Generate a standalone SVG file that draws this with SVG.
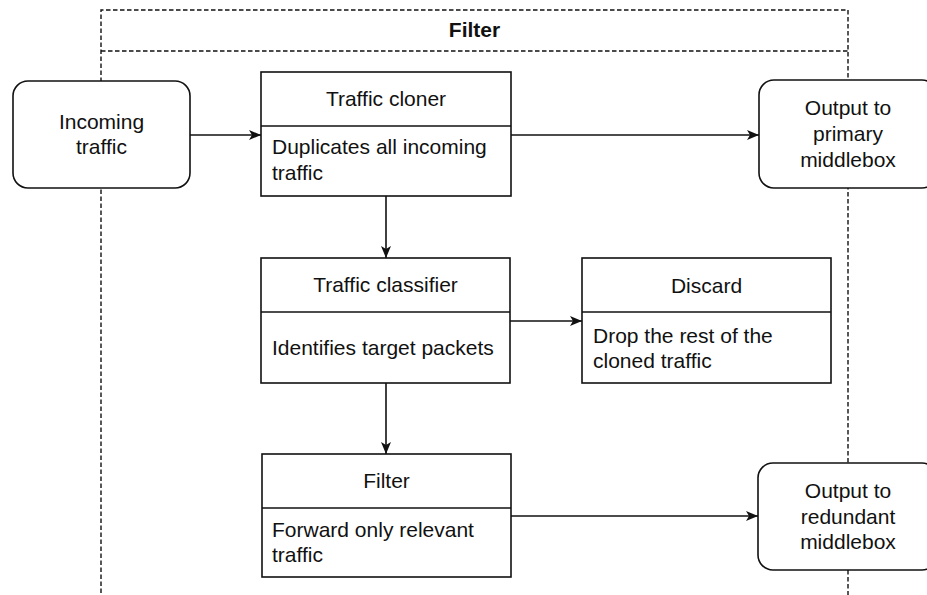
<svg xmlns="http://www.w3.org/2000/svg" width="927" height="595" viewBox="0 0 927 595">
  <style>
    text { font-family: "Liberation Sans", Arial, sans-serif; font-size: 21px; fill: #111; }
    .c { text-anchor: middle; }
    .title { font-weight: bold; }
    .box { fill: #fff; stroke: #111; stroke-width: 1.6; }
    .div { stroke: #111; stroke-width: 1.6; fill: none; }
    .dash { fill: none; stroke: #111; stroke-width: 1.4; stroke-dasharray: 4.5 2.5; }
    .edge { fill: none; stroke: #111; stroke-width: 1.6; }
  </style>
  <defs>
    <marker id="arrow" markerUnits="userSpaceOnUse" markerWidth="14" markerHeight="14" viewBox="0 0 14 14" refX="12" refY="7" orient="auto">
      <path d="M0,2 L12,7 L0,12 L3,7 Z" fill="#111"/>
    </marker>
  </defs>
  <rect width="927" height="595" fill="#fff"/>

  <!-- dashed swimlane container -->
  <g id="container">
    <path class="dash" d="M101,600 L101,10 L848,10 L848,600"/>
    <line class="dash" x1="101" y1="51" x2="848" y2="51"/>
    <text class="title c" x="474.5" y="37">Filter</text>
  </g>

  <!-- connectors -->
  <g id="connectors">
    <line class="edge" x1="190" y1="135" x2="261" y2="135" marker-end="url(#arrow)"/>
    <line class="edge" x1="511" y1="135" x2="759" y2="135" marker-end="url(#arrow)"/>
    <line class="edge" x1="386" y1="196" x2="386" y2="258" marker-end="url(#arrow)"/>
    <line class="edge" x1="510" y1="321" x2="582" y2="321" marker-end="url(#arrow)"/>
    <line class="edge" x1="386" y1="383" x2="386" y2="454" marker-end="url(#arrow)"/>
    <line class="edge" x1="511" y1="516" x2="758" y2="516" marker-end="url(#arrow)"/>
  </g>

  <g id="incoming">
    <rect class="box" x="13" y="81" width="177" height="107" rx="15"/>
    <text class="c" x="101.5" y="129">Incoming</text>
    <text class="c" x="101.5" y="154">traffic</text>
  </g>

  <g id="cloner">
    <rect class="box" x="261" y="72" width="250" height="124"/>
    <line class="div" x1="261" y1="126" x2="511" y2="126"/>
    <text class="c" x="386" y="106">Traffic cloner</text>
    <text x="272" y="154">Duplicates all incoming</text>
    <text x="272" y="180">traffic</text>
  </g>

  <g id="primary">
    <rect class="box" x="759" y="80" width="178" height="108" rx="15"/>
    <text class="c" x="848" y="115">Output to</text>
    <text class="c" x="848" y="141">primary</text>
    <text class="c" x="848" y="167">middlebox</text>
  </g>

  <g id="classifier">
    <rect class="box" x="261" y="258" width="249" height="125"/>
    <line class="div" x1="261" y1="312" x2="510" y2="312"/>
    <text class="c" x="385.5" y="292">Traffic classifier</text>
    <text x="272" y="355">Identifies target packets</text>
  </g>

  <g id="discard">
    <rect class="box" x="582" y="258" width="249" height="125"/>
    <line class="div" x1="582" y1="312" x2="831" y2="312"/>
    <text class="c" x="706.5" y="293">Discard</text>
    <text x="593" y="343">Drop the rest of the</text>
    <text x="593" y="368">cloned traffic</text>
  </g>

  <g id="filter">
    <rect class="box" x="262" y="454" width="249" height="123"/>
    <line class="div" x1="262" y1="508" x2="511" y2="508"/>
    <text class="c" x="386.5" y="488">Filter</text>
    <text x="272" y="537">Forward only relevant</text>
    <text x="272" y="562">traffic</text>
  </g>

  <g id="redundant">
    <rect class="box" x="758" y="463" width="179" height="107" rx="15"/>
    <text class="c" x="848" y="498">Output to</text>
    <text class="c" x="848" y="524">redundant</text>
    <text class="c" x="848" y="549">middlebox</text>
  </g>
</svg>
